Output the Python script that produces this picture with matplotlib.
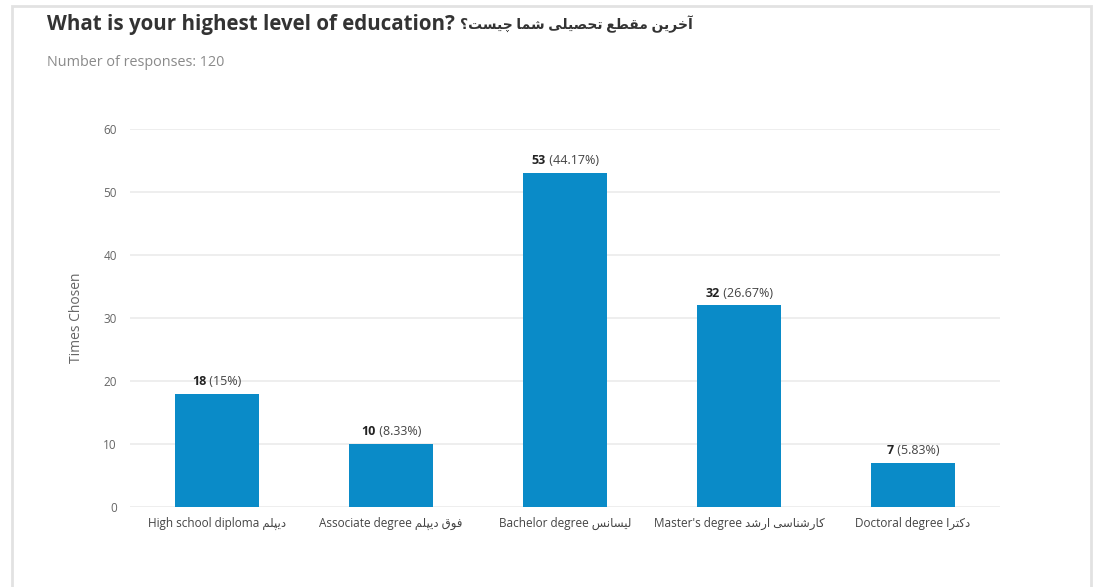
import matplotlib
matplotlib.use("Agg")
from matplotlib import pyplot as plt
from matplotlib.patches import Rectangle
from matplotlib.transforms import ScaledTranslation

# survey answers
categorias_en = ["High school diploma", "Associate degree", "Bachelor degree",
                 "Master's degree", "Doctoral degree"]
categorias_fa = ["دیپلم", "فوق دیپلم", "لیسانس", "کارشناسی ارشد", "دکترا"]
conteos = [18, 10, 53, 32, 7]
porcentajes = ["15%", "8.33%", "44.17%", "26.67%", "5.83%"]
total_respuestas = 120
ticks_y = [0, 10, 20, 30, 40, 50, 60]

titulo_en = "What is your highest level of education?"
titulo_fa = "آخرین مقطع تحصیلی شما چیست؟"

# arabic letter forms: isolated, final, initial, medial (None = right-joining only)
FORMAS = {
    'ا': ('\uFE8D', '\uFE8E', None, None),
    'آ': ('\uFE81', '\uFE82', None, None),
    'د': ('\uFEA9', '\uFEAA', None, None),
    'ر': ('\uFEAD', '\uFEAE', None, None),
    'و': ('\uFEED', '\uFEEE', None, None),
    'خ': ('\uFEA5', '\uFEA6', '\uFEA7', '\uFEA8'),
    'ی': ('\uFBFC', '\uFBFD', '\uFBFE', '\uFBFF'),
    'ن': ('\uFEE5', '\uFEE6', '\uFEE7', '\uFEE8'),
    'م': ('\uFEE1', '\uFEE2', '\uFEE3', '\uFEE4'),
    'ق': ('\uFED5', '\uFED6', '\uFED7', '\uFED8'),
    'ط': ('\uFEC1', '\uFEC2', '\uFEC3', '\uFEC4'),
    'ع': ('\uFEC9', '\uFECA', '\uFECB', '\uFECC'),
    'ت': ('\uFE95', '\uFE96', '\uFE97', '\uFE98'),
    'ح': ('\uFEA1', '\uFEA2', '\uFEA3', '\uFEA4'),
    'ص': ('\uFEB9', '\uFEBA', '\uFEBB', '\uFEBC'),
    'ل': ('\uFEDD', '\uFEDE', '\uFEDF', '\uFEE0'),
    'ش': ('\uFEB5', '\uFEB6', '\uFEB7', '\uFEB8'),
    'چ': ('\uFB7A', '\uFB7B', '\uFB7C', '\uFB7D'),
    'س': ('\uFEB1', '\uFEB2', '\uFEB3', '\uFEB4'),
    'پ': ('\uFB56', '\uFB57', '\uFB58', '\uFB59'),
    'ف': ('\uFED1', '\uFED2', '\uFED3', '\uFED4'),
    'ک': ('\uFB8E', '\uFB8F', '\uFB90', '\uFB91'),
}


def une_izq(c):
    return c in FORMAS and FORMAS[c][2] is not None


def farsi(texto):
    # join letters, then reverse for left-to-right drawing
    salida = []
    for i, c in enumerate(texto):
        if c not in FORMAS:
            salida.append(c)
            continue
        prev = i > 0 and une_izq(texto[i - 1])
        sig = une_izq(c) and i + 1 < len(texto) and texto[i + 1] in FORMAS
        iso, fin, ini, med = FORMAS[c]
        if prev and sig:
            salida.append(med)
        elif prev:
            salida.append(fin)
        elif sig:
            salida.append(ini)
        else:
            salida.append(iso)
    return "".join(reversed(salida))


fuente = ['Open Sans', 'DejaVu Sans']
plt.rcParams['font.family'] = fuente

fig = plt.figure(figsize=(10.94, 5.87), dpi=100)
ax = fig.add_axes([130 / 1094, 1 - 507 / 587, 870 / 1094, 378 / 587])

pos = list(range(len(conteos)))
ax.bar(pos, conteos, width=0.48, color='#0a8bc8', zorder=3)

ax.set_xlim(-0.5, len(conteos) - 0.5)
ax.set_ylim(0, 60)
ax.set_yticks(ticks_y)
ax.yaxis.grid(True, color='#ebebeb', linewidth=1.2, zorder=0)
ax.tick_params(axis='y', length=0, pad=9.5, labelsize=8.5, labelcolor='#666666')
ax.tick_params(axis='x', length=0, pad=7, labelsize=8.5, labelcolor='#444444')
ax.set_xticks(pos)
ax.set_xticklabels([en + " " + farsi(fa) for en, fa in zip(categorias_en, categorias_fa)])
for s in ax.spines.values():
    s.set_visible(False)
ax.set_ylabel("Times Chosen", fontsize=10, color='#666666', labelpad=14)

# value labels: bold count + normal percentage, centred together
etiquetas = []
for x, v, p in zip(pos, conteos, porcentajes):
    t1 = ax.text(x, v + 1.4, str(v), fontsize=9, fontweight='bold', color='#222222',
                 ha='left', va='baseline')
    t2 = ax.text(x, v + 1.4, " (" + p + ")", fontsize=9, color='#444444',
                 ha='left', va='baseline')
    etiquetas.append((t1, t2))

# title: english part, persian part right after it
t_en = fig.text(47 / 1094, 1 - 30 / 587, titulo_en + " ", fontsize=14.8,
                fontweight='bold', color='#333333', va='baseline', ha='left')
t_fa = fig.text(0, 1 - 29 / 587, farsi(titulo_fa), fontsize=10,
                fontweight='bold', color='#333333', va='baseline', ha='left')
fig.text(47 / 1094, 1 - 62 / 587, "Number of responses: %d" % total_respuestas,
         fontsize=10.4, color='#8a8a8a', va='center', ha='left')

fig.canvas.draw()
r = fig.canvas.get_renderer()
for t1, t2 in etiquetas:
    w1 = t1.get_window_extent(r).width
    w2 = t2.get_window_extent(r).width
    dx = -(w1 + w2) / 2 / fig.dpi
    t1.set_transform(ax.transData + ScaledTranslation(dx, 0, fig.dpi_scale_trans))
    t2.set_transform(ax.transData + ScaledTranslation(dx + w1 / fig.dpi, 0, fig.dpi_scale_trans))
x_fa = t_en.get_window_extent(r).x1 / fig.bbox.width
t_fa.set_x(x_fa)

# card border
fig.add_artist(Rectangle((12 / 1094, -0.1), 1079 / 1094, 1.1 - 6 / 587,
                         transform=fig.transFigure, fill=False,
                         edgecolor='#e2e2e2', linewidth=2))

fig.savefig("out.png", dpi=100)
